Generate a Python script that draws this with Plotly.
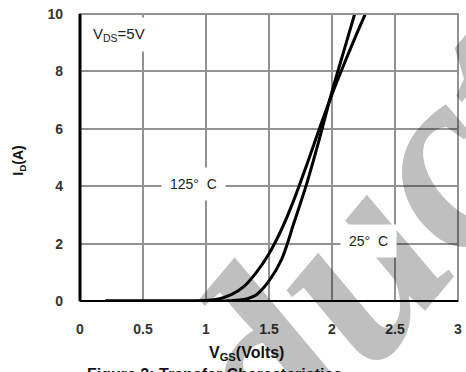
import plotly.graph_objects as go

# Transfer characteristics, VDS = 5V
vgs_125 = [0.2, 0.6, 0.9, 1.0, 1.1, 1.2, 1.3, 1.4, 1.5, 1.6, 1.7, 1.8, 1.9, 2.0, 2.1, 2.2, 2.3]
id_125 = [0.0, 0.0, 0.0, 0.02, 0.07, 0.22, 0.5, 1.0, 1.65, 2.5, 3.55, 4.75, 6.0, 7.2, 8.3, 9.35, 10.35]

vgs_25 = [0.2, 0.6, 1.0, 1.2, 1.3, 1.4, 1.5, 1.6, 1.7, 1.8, 1.9, 2.0, 2.1, 2.2]
id_25 = [0.0, 0.0, 0.0, 0.01, 0.05, 0.22, 0.7, 1.45, 2.75, 4.1, 5.65, 7.3, 8.8, 10.3]

x_ticks = [0, 0.5, 1, 1.5, 2, 2.5, 3]
x_tick_text = ["0", "0.5", "1", "1.5", "2", "2.5", "3"]
y_ticks = [0, 2, 4, 6, 8, 10]
y_tick_text = ["0", "2", "4", "6", "8", "10"]

FONT = "Liberation Sans, Arial, sans-serif"

fig = go.Figure()
fig.add_trace(go.Scatter(x=vgs_125, y=id_125, mode="lines", name="125° C",
                         line=dict(color="black", width=3, shape="spline", smoothing=0.9)))
fig.add_trace(go.Scatter(x=vgs_25, y=id_25, mode="lines", name="25° C",
                         line=dict(color="black", width=3, shape="spline", smoothing=0.9)))

grid = "#929292"
fig.update_xaxes(range=[0, 3], tickvals=x_ticks, ticktext=x_tick_text,
                 showgrid=True, gridcolor=grid, gridwidth=2, zeroline=False,
                 showline=False, ticks="", ticklabelstandoff=18, ticklabeloverflow="allow",
                 tickfont=dict(family=FONT, size=14, color="#333", weight="bold"))
fig.update_yaxes(range=[0, 10], tickvals=y_ticks, ticktext=y_tick_text,
                 showgrid=True, gridcolor=grid, gridwidth=2, zeroline=False,
                 showline=False, ticks="", ticklabelstandoff=16, ticklabeloverflow="allow",
                 tickfont=dict(family=FONT, size=14, color="#333", weight="bold"))

fig.add_shape(type="rect", xref="paper", yref="paper", x0=0, y0=0, x1=1, y1=1,
              line=dict(color=grid, width=2), layer="above")
fig.add_shape(type="line", xref="paper", yref="paper", x0=0, y0=0, x1=1, y1=0,
              line=dict(color="black", width=2), layer="above")
fig.add_shape(type="line", xref="paper", yref="paper", x0=0, y0=0, x1=0, y1=1,
              line=dict(color="black", width=3), layer="above")

annotations = [
    dict(text="oduct", xref="paper", yref="paper", x=0.66, y=0.045,
         xanchor="center", yanchor="middle", showarrow=False, textangle=-50,
         font=dict(family="Liberation Serif, serif", size=260, style="italic",
                   weight="bold", color="rgba(0,0,0,0.25)")),
    dict(text="V<sub>DS</sub>=5V", x=0.31, y=9.27, showarrow=False,
         xanchor="center", yanchor="middle", bgcolor="white", borderpad=7,
         font=dict(family=FONT, size=15, color="#222")),
    dict(text="125°  C", x=0.9, y=4.07, showarrow=False,
         xanchor="center", yanchor="middle", bgcolor="white", borderpad=8,
         font=dict(family=FONT, size=14, color="#222")),
    dict(text="25°  C", x=2.29, y=2.1, showarrow=False,
         xanchor="center", yanchor="middle", bgcolor="white", borderpad=8,
         font=dict(family=FONT, size=14, color="#222")),
    dict(text="V<sub>GS</sub>(Volts)", xref="paper", yref="paper", x=0.441, y=-0.183,
         xanchor="center", yanchor="middle", showarrow=False,
         font=dict(family=FONT, size=16, color="#111", weight="bold")),
    dict(text="I<sub>D</sub>(A)", xref="paper", yref="paper", x=-0.16, y=0.487,
         xanchor="center", yanchor="middle", textangle=-90, showarrow=False,
         font=dict(family=FONT, size=14, color="#111", weight="bold")),
    dict(text="Figure 2: Transfer Characteristics", xref="paper", yref="paper",
         x=0.356, y=-0.255, xanchor="center", yanchor="middle", showarrow=False,
         font=dict(family=FONT, size=16, color="#111", weight="bold")),
]

fig.update_layout(width=466, height=372, margin=dict(l=80, r=4, t=14, b=71),
                  paper_bgcolor="white", plot_bgcolor="white", showlegend=False,
                  annotations=annotations)

fig.write_html("out.html")
